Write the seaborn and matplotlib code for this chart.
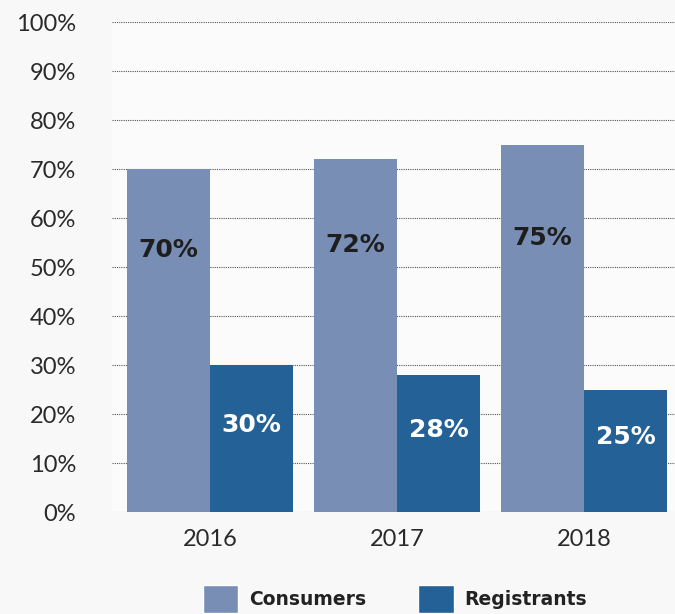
import seaborn as sns
import matplotlib.pyplot as plt
import pandas as pd
from matplotlib.patches import Patch

# datos
years = ['2016', '2017', '2018']
consumers = [70, 72, 75]
registrants = [30, 28, 25]
series = ['Consumers', 'Registrants']
colors = ['#788eb5', '#236197']

df = pd.DataFrame({
    'Year': years * 2,
    'Share': consumers + registrants,
    'Group': [series[0]] * 3 + [series[1]] * 3,
})

sns.set_style('white')
plt.rcParams['font.family'] = ['Lato', 'DejaVu Sans']

fig = plt.figure(figsize=(6.75, 6.14), dpi=100, facecolor='#f8f8f8')
ax = fig.add_axes([0.166, 0.166, 0.834, 0.798])
ax.set_facecolor('#fbfbfb')

sns.barplot(data=df, x='Year', y='Share', hue='Group', palette=colors,
            width=0.888, gap=0, saturation=1, linewidth=0, ax=ax,
            legend=False, zorder=3)

ax.set_ylim(0, 100)
ax.set_xlim(-0.524, 2.487)
ax.set_yticks(range(0, 101, 10))
ax.set_yticklabels([f'{v}%' for v in range(0, 101, 10)], fontsize=17,
                   color='#2a2a2a')
ax.tick_params(axis='x', labelsize=17, labelcolor='#2a2a2a', pad=12, length=0)
ax.tick_params(axis='y', length=0, pad=26)
ax.set_xlabel('')
ax.set_ylabel('')
ax.yaxis.grid(True, linestyle=(0, (1, 1)), color='#555555', linewidth=0.8, zorder=0)
for s in ax.spines.values():
    s.set_visible(False)

# etiquetas dentro de las barras
for cont, vals, col, off in zip(ax.containers, [consumers, registrants],
                                ['#1e1e1e', 'white'], [18.5, 2.8]):
    for bar, v in zip(cont, vals):
        ax.text(bar.get_x() + bar.get_width() / 2, v / 2 + off, f'{v}%',
                ha='center', va='center', fontsize=18, fontweight='bold',
                family='DejaVu Sans', color=col, zorder=4)

handles = [Patch(facecolor=c, label=l) for c, l in zip(colors, series)]
leg = fig.legend(handles=handles, loc='center', bbox_to_anchor=(0.585, 0.025),
                 ncol=2, frameon=False, handlelength=1.9, handleheight=1.9,
                 columnspacing=2.8, handletextpad=0.55,
                 prop={'size': 13.5, 'weight': 'bold', 'family': 'DejaVu Sans'})
for t in leg.get_texts():
    t.set_color('#222222')

fig.savefig('out.png', dpi=100, facecolor=fig.get_facecolor())
